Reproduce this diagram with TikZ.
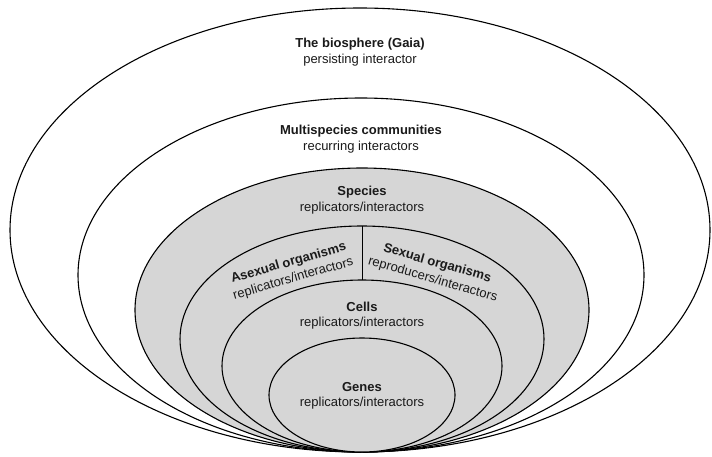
\documentclass[tikz,border=0pt]{standalone}
\usepackage{fontspec}
\setmainfont{Liberation Sans}
\definecolor{shade}{HTML}{D6D6D6}
\definecolor{ink}{HTML}{1A1A1A}
\begin{document}
\begin{tikzpicture}[x=1pt,y=-1pt,
  ring/.style={draw=black,line width=1.1pt},
  title/.style={font=\fontsize{13}{15}\selectfont\bfseries,inner sep=0pt,text=ink},
  sub/.style={font=\fontsize{13}{15}\selectfont,inner sep=0pt,text=ink},
  pair/.style={font=\fontsize{13}{16.5}\selectfont,inner sep=0pt,text=ink,align=center}]
\useasboundingbox (0,0) rectangle (712,456);
% ellipses
\draw[ring,fill=white] (360,230) ellipse [x radius=350pt, y radius=222pt];
\draw[ring,fill=white] (361,275) ellipse [x radius=283pt, y radius=177pt];
\draw[ring,fill=shade] (362,310) ellipse [x radius=227pt, y radius=142pt];
\draw[ring,fill=shade] (362,339) ellipse [x radius=182pt, y radius=113pt];
\draw[ring,fill=shade] (362,366) ellipse [x radius=140pt, y radius=86pt];
\draw[ring,fill=shade] (362,395) ellipse [x radius=93pt, y radius=57pt];
% divider
\coordinate (orgtop) at (362,226);
\coordinate (celltop) at (362,280);
\draw[ring,line width=1pt] (orgtop) -- (celltop);
% labels
\node[title] (gaia) at (360,44) {The biosphere (Gaia)};
\node[sub] (gaiasub) at (360,60) {persisting interactor};
\node[title] (multi) at (361,131) {Multispecies communities};
\node[sub] (multisub) at (361,147) {recurring interactors};
\node[title] (species) at (362,192) {Species};
\node[sub] (speciessub) at (362,208) {replicators/interactors};
\node[pair,rotate=16] (asex) at (291,271) {\textbf{Asexual organisms}\\replicators/interactors};
\node[pair,rotate=-16] (sex) at (435,271.5) {\textbf{Sexual organisms}\\reproducers/interactors};
\node[title] (cells) at (362,307) {Cells};
\node[sub] (cellssub) at (362,323) {replicators/interactors};
\node[title] (genes) at (362,387) {Genes};
\node[sub] (genessub) at (362,403) {replicators/interactors};
\end{tikzpicture}
\end{document}
